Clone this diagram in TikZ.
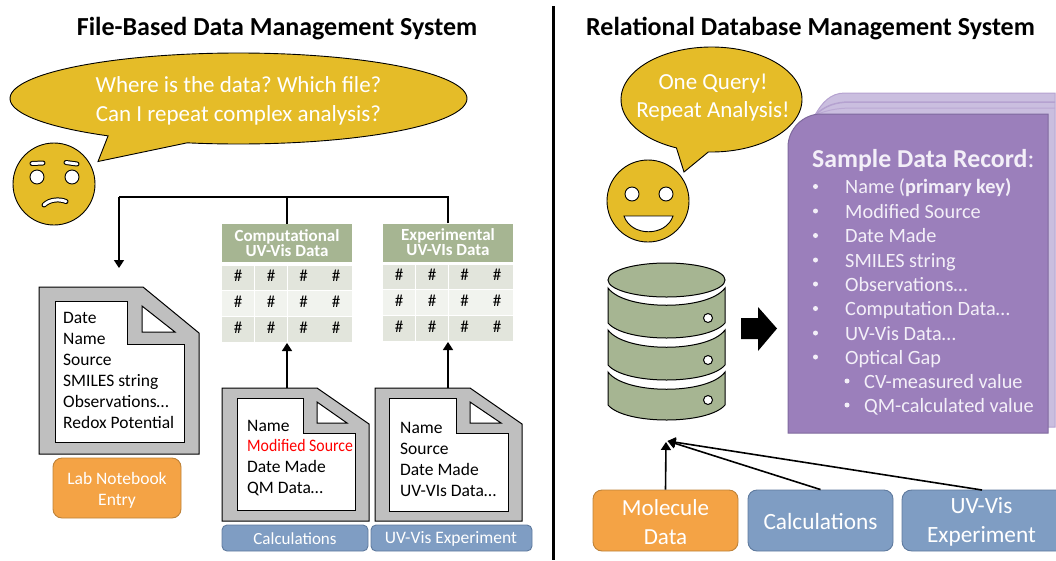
\documentclass[tikz,border=0pt]{standalone}
\usepackage{fontspec}
\setmainfont{Carlito}
\frenchspacing
\usetikzlibrary{arrows.meta,calc,shapes.geometric}
\definecolor{bubblecol}{HTML}{E5BC28}
\definecolor{orangecol}{HTML}{F4A345}
\definecolor{orangeedge}{HTML}{BE8238}
\definecolor{bluecol}{HTML}{7F9DC3}
\definecolor{blueedge}{HTML}{5F7A9E}
\definecolor{greencol}{HTML}{A6B592}
\definecolor{rowa}{HTML}{E2E5DC}
\definecolor{rowb}{HTML}{F1F3EE}
\definecolor{docgray}{HTML}{BFBFBF}
\definecolor{cardcol}{HTML}{9B7FBB}
\definecolor{cardedge}{HTML}{7F6A9E}
\definecolor{cardmid}{HTML}{B5A2D0}
\definecolor{cardback}{HTML}{CABEDF}
\definecolor{cardtext}{HTML}{F3EFF8}
\newcommand{\fsz}[1]{\fontsize{#1}{#1}\selectfont}
\newcommand{\hashmark}{\raisebox{-3.5pt}[0pt][0pt]{\#}}
\newcommand{\cylseg}[3]{%
  \path[cylshape] (608,#1) .. controls (625,{#1+23}) and (708,{#1+23}) .. (725,#1)
    -- (725,#2) .. controls (708,{#2+20}) and (625,{#2+20}) .. (608,#2) -- cycle;
  \node[circle,draw=black,line width=1pt,fill=white,inner sep=0pt,minimum size=9pt] (#3) at (708,{#2-5}) {};
}
\tikzset{
  x=1pt,y=-1pt,
  titletext/.style={inner sep=0pt,font=\fsz{26}\bfseries,text=black},
  bubbletext/.style={inner sep=0pt,align=center,text=white,font=\fontsize{23}{28.5}\selectfont},
  bubbleshape/.style={draw=black,line width=.9pt,fill=bubblecol,line join=miter},
  faceshape/.style={circle,draw=black,line width=.9pt,fill=bubblecol,inner sep=0pt,minimum size=82pt},
  eyeshape/.style={circle,draw=black,line width=.9pt,fill=white,inner sep=0pt,minimum size=14pt},
  conn/.style={draw=black,line width=1.6pt},
  connarrow/.style={conn,-{Triangle[length=8pt,width=10pt]}},
  rowhead/.style={fill=greencol,inner sep=0pt,text=white,align=center,font=\fontsize{17}{15}\selectfont\bfseries},
  cella/.style={fill=rowa,inner sep=0pt,minimum width=32pt,minimum height=24.5pt,font=\fsz{17},text=black},
  cellb/.style={cella,fill=rowb},
  docouter/.style={draw=black,line width=1pt,fill=docgray,line join=miter},
  docinner/.style={draw=black,line width=1pt,fill=white,line join=miter},
  doctext/.style={inner sep=0pt,anchor=base west,font=\fsz{17.5},text=black},
  orangebox/.style={draw=orangeedge,line width=.9pt,fill=orangecol,rounded corners=9pt,inner sep=0pt,text=white,align=center},
  bluebox/.style={draw=blueedge,line width=.9pt,fill=bluecol,rounded corners=7pt,inner sep=0pt,text=white,align=center},
  cardline/.style={inner sep=0pt,anchor=base west,font=\fsz{20.3},text=cardtext},
  carddot/.style={circle,fill=cardtext,inner sep=0pt,minimum size=5pt},
  cylshape/.style={draw=black,line width=1pt,fill=greencol},
}
\begin{document}
\begin{tikzpicture}
\useasboundingbox (0,0) rectangle (1056,560);
% divider and titles
\coordinate (divtop) at (553,6);
\coordinate (divbot) at (553,560);
\draw[black,line width=3pt] (divtop) -- (divbot);
\node[titletext] (titleL) at (277,29) {File-Based Data Management System};
\node[titletext] (titleR) at (810.5,29) {Relational Database Management System};
% left bubble
\path[bubbleshape] (98,161.5) -- plot[domain=124.8:463,samples=120,smooth] ({238.5+228.5*cos(\x)},{98.5+45.5*sin(\x)}) -- cycle;
\node[bubbletext,font=\fontsize{23}{29}\selectfont] (qL) at (238.5,101) {Where is the data? Which file?\\Can I repeat complex analysis?};
% sad face
\node[faceshape] (sad) at (54,184) {};
\node[eyeshape] (sadE1) at (37,177) {};
\node[eyeshape] (sadE2) at (72,177) {};
\draw[black,line width=5pt,line cap=round] (32,163.5) -- (43,163);
\draw[white,line width=3pt,line cap=round] (32,163.5) -- (43,163);
\draw[black,line width=5pt,line cap=round] (66,162.5) -- (77,164);
\draw[white,line width=3pt,line cap=round] (66,162.5) -- (77,164);
\draw[black,line width=5pt,line cap=round] (44,205) .. controls (50,199) and (60,199) .. (66,201.5);
\draw[white,line width=3pt,line cap=round] (44,205) .. controls (50,199) and (60,199) .. (66,201.5);
% tables
\node[rowhead,minimum width=130pt,minimum height=38pt] (hdA) at (287,243) {Computational\\UV-Vis Data};
\node[rowhead,minimum width=130pt,minimum height=38pt] (hdB) at (448,242.5) {Experimental\\UV-VIs Data};
\foreach \cx [count=\i] in {238,271,303.5,336}{
  \node[cella] (a1\i) at (\cx,278) {\hashmark};
  \node[cellb] (a2\i) at (\cx,303.5) {\hashmark};
  \node[cella] (a3\i) at (\cx,329.5) {\hashmark};
}
\foreach \cx [count=\i] in {399,432,464.5,497}{
  \node[cella] (b1\i) at (\cx,277) {\hashmark};
  \node[cellb] (b2\i) at (\cx,302.5) {\hashmark};
  \node[cella] (b3\i) at (\cx,328.5) {\hashmark};
}
% doc 1
\path[docouter] (39,287) -- (143,287) -- (199,333) -- (199,454) -- (39,454) -- cycle;
\path[docinner] (55,301) -- (127,301) -- (127,344) -- (184,344) -- (184,442) -- (55,442) -- cycle;
\path[docinner] (142,306) -- (175,332) -- (142,332) -- cycle;
\coordinate (doc1target) at (119,268);
\foreach \t/\yy [count=\i] in {Date/323,Name/344,Source/365,SMILES string/386,Observations…/407,Redox Potential/428}{
  \node[doctext] (d1\i) at (63,\yy) {\t};
}
% doc 2
\path[docouter] (222,388) -- (317,388) -- (369,424) -- (369,521) -- (222,521) -- cycle;
\path[docinner] (237,398) -- (303,398) -- (303,433) -- (355,433) -- (355,510) -- (237,510) -- cycle;
\path[docinner] (317,402) -- (347,423) -- (317,423) -- cycle;
\coordinate (doc2top) at (287,388);
\node[doctext] (d21) at (247,431) {Name};
\node[doctext,text=red] (d22) at (247,451) {\scalebox{0.905}[1]{Modified Source}};
\node[doctext] (d23) at (247,472) {Date Made};
\node[doctext] (d24) at (247,493) {QM Data…};
% doc 3
\path[docouter] (375,388) -- (470,388) -- (522,424) -- (522,521) -- (375,521) -- cycle;
\path[docinner] (389,398) -- (456,398) -- (456,433) -- (508,433) -- (508,511) -- (389,511) -- cycle;
\path[docinner] (470,402) -- (501,423) -- (470,423) -- cycle;
\coordinate (doc3top) at (448,388);
\node[doctext] (d31) at (400,433) {Name};
\node[doctext] (d32) at (400,454) {Source};
\node[doctext] (d33) at (400,475) {Date Made};
\node[doctext] (d34) at (400,496) {UV-VIs Data…};
% left connectors
\coordinate (barL) at (119,197);
\coordinate (barM) at (287,197);
\coordinate (barR) at (448,197);
\draw[conn,line join=miter] (hdA.north) -- (barM);
\draw[conn,line join=miter] (hdB.north) -- (barR) -- (barL);
\draw[connarrow] (barL) -- (doc1target);
\draw[connarrow] (doc2top) -- (287,343);
\draw[connarrow] (doc3top) -- (448,342);
% left labels
\node[orangebox,minimum width=128pt,minimum height=60pt] (lab) at (117,488) {};
\node[inner sep=0pt,align=center,text=white,font=\fontsize{17.5}{21}\selectfont] (labT) at (117,490) {Lab Notebook\\Entry};
\node[bluebox,rounded corners=5pt,minimum width=146pt,minimum height=26pt,font=\fsz{17}] (calcS) at (295,538) {};
\node[inner sep=0pt,text=white,font=\fsz{17}] (calcST) at (295,539) {Calculations};
\node[bluebox,rounded corners=5pt,minimum width=161pt,minimum height=26pt] (uvS) at (451.5,538) {};
\node[inner sep=0pt,text=white,font=\fsz{17.5}] (uvST) at (451,539) {UV-Vis Experiment};
% right bubble
\path[bubbleshape] (684,172) -- plot[domain=112.8:452,samples=100,smooth] ({711.5+90.5*cos(\x)},{99.5+52.5*sin(\x)}) -- cycle;
\node[bubbletext] (qR) at (713,97.5) {One Query!\\Repeat Analysis!};
% happy face
\node[faceshape] (happy) at (648,201) {};
\node[eyeshape] (hapE1) at (632,194) {};
\node[eyeshape] (hapE2) at (666,194) {};
\draw[black,line width=.9pt,fill=white] (624,216) -- (673,216) .. controls (666,237) and (631,237) .. cycle;
% card stack
\path[fill=cardback] (815,115) .. controls (822,103) and (830,93) .. (845,93) -- (1055,93) -- (1055,427) -- (1000,427) -- (1000,115) -- cycle;
\draw[cardmid,line width=1pt] (815,115) .. controls (822,103) and (830,93) .. (845,93) -- (1055,93) -- (1055,427) -- (1040,427);
\draw[cardmid,line width=1.5pt] (815,115) .. controls (825,106) and (835,102) .. (850,102) -- (1055,102);
\draw[cardmid!70!cardback,line width=1pt] (815,115) .. controls (830,109) and (840,108) .. (855,108) -- (1055,108);
\path[draw=cardedge,line width=1pt,fill=cardcol] (1048,114) -- (821,114) .. controls (803,114) and (788,129) .. (788,147) -- (788,433) -- (1048,433) -- cycle;
\node[inner sep=0pt,anchor=base west,text=cardtext,font=\fsz{25.8}] (ctitle) at (812,167.5) {\textbf{Sample Data Record}:};
\foreach \t/\yy [count=\i] in {{Name (\textbf{primary key)}}/193.5,Modified Source/218,Date Made/242.5,SMILES string/267,Observations…/291,Computation Data…/315.5,UV-Vis Data…/340,Optical Gap/364}{
  \node[carddot] (bu\i) at (815.5,\yy-7) {};
  \node[cardline] (it\i) at (845,\yy) {\t};
}
\node[carddot] (su1) at (847,381) {};
\node[cardline] (sub1) at (864,388) {CV-measured value};
\node[carddot] (su2) at (847,405) {};
\node[cardline] (sub2) at (864,412.5) {QM-calculated value};
% database cylinder
\cylseg{372}{405}{dot3}
\cylseg{330}{365}{dot2}
\cylseg{288}{323}{dot1}
\node[ellipse,draw=black,line width=1pt,fill=greencol,inner sep=0pt,minimum width=117pt,minimum height=34pt] (dbtop) at (666.5,280) {};
% block arrow
\path[fill=black] (741,318) -- (758,318) -- (758,307) -- (777,328.5) -- (758,351) -- (758,339) -- (741,339) -- cycle;
% bottom boxes
\node[orangebox,minimum width=145pt,minimum height=61pt] (mol) at (665.5,520.5) {};
\node[inner sep=0pt,align=center,text=white,font=\fontsize{23}{29}\selectfont] (molT) at (665.5,522) {Molecule\\Data};
\node[bluebox,rounded corners=9pt,minimum width=145pt,minimum height=61pt] (calcB) at (820.5,520.5) {};
\node[inner sep=0pt,text=white,font=\fsz{23.3}] (calcBT) at (820.5,521.5) {Calculations};
\path[draw=blueedge,line width=.9pt,fill=bluecol] (1056,490) -- (912,490) .. controls (906,490) and (902,494) .. (902,500) -- (902,541) .. controls (902,547) and (906,551) .. (912,551) -- (1056,551);
\node[inner sep=0pt,align=center,text=white,font=\fontsize{23.3}{28.5}\selectfont] (uvB) at (981.5,522) {UV-Vis\\Experiment};
\coordinate (uvTop) at (982,490);
\coordinate (dbIn) at (666,442);
\coordinate (dbInB) at (667.5,441);
\draw[connarrow] (mol.north) -- (dbIn);
\draw[connarrow] (calcB.north) -- (dbInB);
\draw[connarrow] (uvTop) -- (dbInB);
\end{tikzpicture}
\end{document}
